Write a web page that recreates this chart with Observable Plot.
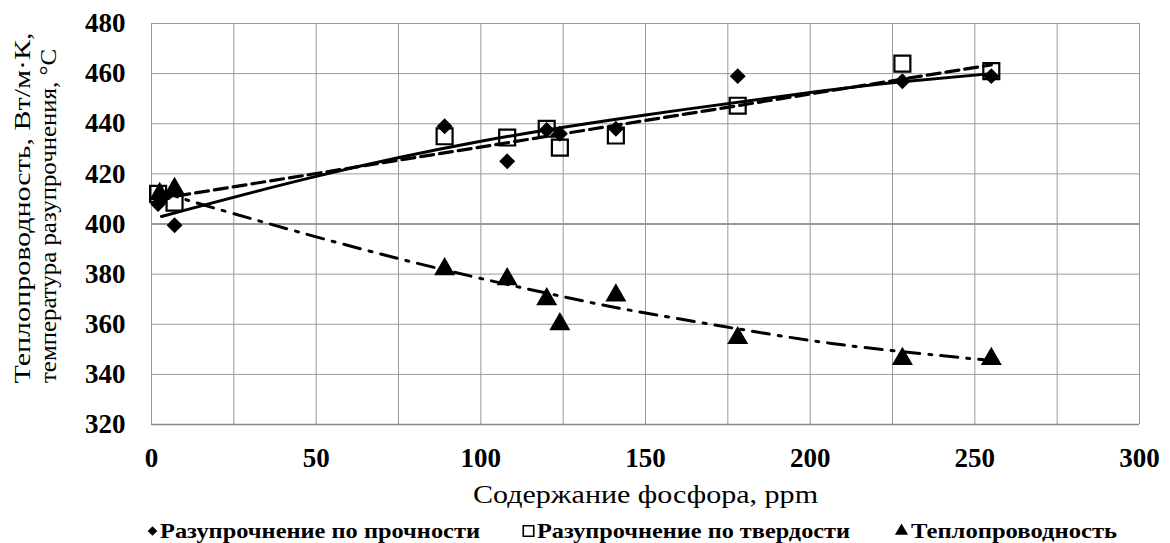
<!DOCTYPE html>
<html>
<head>
<meta charset="utf-8">
<script src="https://cdn.jsdelivr.net/npm/d3@7"></script>
<script src="https://cdn.jsdelivr.net/npm/@observablehq/plot@0.6"></script>
<style>
  html, body { margin: 0; padding: 0; background: #fff; }
  #chart svg { display: block; }
  #chart text, #legend text { font-family: "Liberation Serif", "Times New Roman", serif; }
</style>
</head>
<body>
<div id="chart"></div>
<div id="legend"></div>
<script>
// ---- Data ----
const xTicks = [0, 50, 100, 150, 200, 250, 300];
const xGrid = [0, 25, 50, 75, 100, 125, 150, 175, 200, 225, 250, 275, 300];
const yTicks = [320, 340, 360, 380, 400, 420, 440, 460, 480];

const strengthX = [2, 3, 7, 89, 108, 120, 124, 141, 178, 228, 255];
const strengthY = [408, 411, 399.5, 439, 425, 437.5, 436, 438, 459, 457, 459];

const hardnessX = [2, 7, 89, 108, 120, 124, 141, 178, 228, 255];
const hardnessY = [412, 408.5, 435, 434.5, 438, 430.5, 435.3, 447.2, 464, 461];

const thermalX = [2.5, 7, 89, 108, 120, 124, 141, 178, 228, 255];
const thermalY = [412, 414, 382, 378, 370, 360, 371.5, 354.5, 346.2, 346.2];

// trend lines
const trendStrengthX = [3, 50, 100, 150, 200, 228, 255];
const trendStrengthY = [403, 419, 433, 443.5, 452.5, 456.8, 460];
const trendHardnessX = [2, 255];
const trendHardnessY = [410, 463.5];
const trendThermalX = [3, 20, 75, 125, 150, 188, 218, 255];
const trendThermalY = [413, 406, 386.2, 371, 364.5, 356, 350.5, 345.5];

const xTitle = "Содержание фосфора, ppm";
const yTitle1 = "Теплопроводность, Вт/м·К,";
const yTitle2 = "температура разупрочнения, °С";
const legendLabels = ["Разупрочнение по прочности", "Разупрочнение по твердости", "Теплопроводность"];

const zip = (X, Y) => X.map((x, i) => ({x, y: Y[i]}));
const strength = zip(strengthX, strengthY);
const hardness = zip(hardnessX, hardnessY);
const thermal = zip(thermalX, thermalY);
const tStrength = zip(trendStrengthX, trendStrengthY);
const tHardness = zip(trendHardnessX, trendHardnessY);
const tThermal = zip(trendThermalX, trendThermalY);

const FONT = "Liberation Serif";
const gridColor = "#999";

const chart = Plot.plot({
  width: 1170,
  height: 512,
  marginLeft: 151,
  marginRight: 31,
  marginTop: 23,
  marginBottom: 88,
  style: {fontFamily: FONT, fontSize: "27px", color: "black", background: "white"},
  x: {domain: [0, 300]},
  y: {domain: [320, 480]},
  marks: [
    Plot.gridX(xGrid, {stroke: gridColor, strokeOpacity: 1, strokeWidth: 1}),
    Plot.gridY(yTicks, {stroke: gridColor, strokeOpacity: 1, strokeWidth: 1}),
    Plot.ruleY([400], {stroke: gridColor, strokeWidth: 2}),
    Plot.ruleY([320], {stroke: "#888", strokeWidth: 1.5}),
    Plot.axisX(xTicks, {tickSize: 0, tickPadding: 23, fontSize: 27, fontWeight: "bold", fontFamily: FONT, label: null, tickFormat: d => String(d)}),
    Plot.axisY(yTicks, {tickSize: 0, tickPadding: 26, fontSize: 27, fontWeight: "bold", fontFamily: FONT, label: null, tickFormat: d => String(d)}),
    Plot.dot(strength, {x: "x", y: "y", symbol: "diamond2", r: 7.2, fill: "black", stroke: "none"}),
    Plot.dot(hardness, {x: "x", y: "y", symbol: "square", r: 9, fill: "none", stroke: "black", strokeWidth: 2.2}),
    Plot.dot(thermal, {x: "x", y: "y", symbol: "triangle", r: 7.8, fill: "black", stroke: "none"}),
    Plot.line(tStrength, {x: "x", y: "y", stroke: "black", strokeWidth: 3, curve: "natural"}),
    Plot.line(tHardness, {x: "x", y: "y", stroke: "black", strokeWidth: 3.2, strokeDasharray: "13,6"}),
    Plot.line(tThermal, {x: "x", y: "y", stroke: "black", strokeWidth: 3, strokeDasharray: "17,9,3,9", curve: "natural"}),
    Plot.text([xTitle], {text: d => d, frameAnchor: "bottom", textAnchor: "middle", dy: 70, fontSize: 25, fontFamily: FONT, fontWeight: "normal", lineAnchor: "middle"}),
    Plot.text([yTitle1], {text: d => d, frameAnchor: "left", textAnchor: "middle", rotate: -90, dx: -129, dy: -16, fontSize: 24, fontFamily: FONT, fontWeight: "normal", lineAnchor: "middle"}),
    Plot.text([yTitle2], {text: d => d, frameAnchor: "left", textAnchor: "middle", rotate: -90, dx: -103, dy: -8, fontSize: 24, fontFamily: FONT, fontWeight: "normal", lineAnchor: "middle"})
  ]
});
document.getElementById("chart").appendChild(chart);

// stretch titles to the extents seen in the reference
const lengths = new Map([[xTitle, 345], [yTitle1, 351], [yTitle2, 334]]);
d3.select(chart).selectAll("text").each(function () {
  const t = this.textContent;
  if (lengths.has(t)) {
    this.setAttribute("textLength", lengths.get(t));
    this.setAttribute("lengthAdjust", "spacingAndGlyphs");
  }
});

// ---- Legend below the chart ----
const legendItems = [
  {label: legendLabels[0], sym: d3.symbolDiamond2, size: 60, fill: "black", stroke: "none", sx: 152.5, tx: 160, tl: 320},
  {label: legendLabels[1], sym: d3.symbolSquare, size: 110, fill: "none", stroke: "black", sx: 528.5, tx: 537, tl: 313},
  {label: legendLabels[2], sym: d3.symbolTriangle, size: 75, fill: "black", stroke: "none", sx: 901.5, tx: 911, tl: 206}
];
const lg = d3.create("svg").attr("width", 1170).attr("height", 31).style("display", "block").style("background", "white");
const cy = 19;
for (const it of legendItems) {
  lg.append("path")
    .attr("d", d3.symbol(it.sym, it.size)())
    .attr("transform", `translate(${it.sx},${cy})`)
    .attr("fill", it.fill)
    .attr("stroke", it.stroke)
    .attr("stroke-width", 1.6);
  lg.append("text")
    .attr("x", it.tx)
    .attr("y", cy)
    .attr("dy", "0.34em")
    .attr("font-family", FONT)
    .attr("font-size", 22)
    .attr("font-weight", "bold")
    .attr("fill", "black")
    .attr("textLength", it.tl)
    .attr("lengthAdjust", "spacingAndGlyphs")
    .text(it.label);
}
document.getElementById("legend").appendChild(lg.node());
</script>
</body>
</html>
